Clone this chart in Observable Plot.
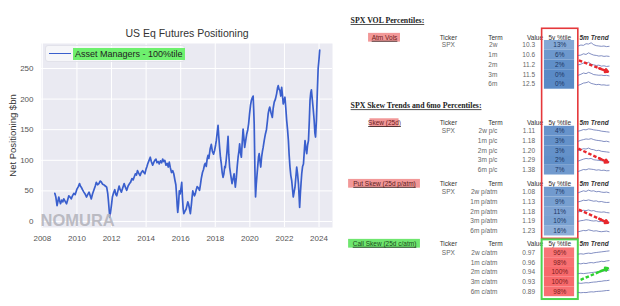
<!DOCTYPE html>
<html>
<head>
<meta charset="utf-8">
<script src="https://cdn.jsdelivr.net/npm/d3@7"></script>
<script src="https://cdn.jsdelivr.net/npm/@observablehq/plot@0.6"></script>
<style>
  html, body { margin: 0; padding: 0; background: #fff; }
  #page { position: relative; width: 620px; height: 306px; overflow: hidden; font-family: "Liberation Sans", Arial, sans-serif; }
  #left { position: absolute; left: 0; top: 0; }
  #right { position: absolute; left: 335px; top: 0; }
  #title { position: absolute; left: 0; width: 374px; top: 27px; line-height: 12px; text-align: center; font-size: 10.5px; color: #333; }
  #legend { position: absolute; left: 45px; top: 45px; width: 140px; height: 17px; background: rgba(255,255,255,0.55); border: 1px solid #e2e2ea; border-radius: 3px; box-sizing: border-box; }
  #legend .swatch { position: absolute; left: 3px; top: 7px; width: 22px; border-top: 1.6px solid #3a5fcd; }
  #legend .name { position: absolute; left: 27px; top: 2px; height: 12px; line-height: 12px; padding: 0 2px; background: #6ef06e; font-size: 9px; color: #222; white-space: nowrap; }
  .sec-title, .sec-label { text-decoration: underline; }
</style>
</head>
<body>
<div id="page">
  <div id="left"></div>
  <div id="title">US Eq Futures Positioning</div>
  <div id="legend"><div class="swatch"></div><div class="name">Asset Managers - 100%tile</div></div>
  <div id="right"></div>
</div>
<script>
// ---- US equity futures net positioning of asset managers ($bn) ----
const weeks = [
  2008.72, 2008.78, 2008.85, 2008.90, 2008.95, 2009.00, 2009.05, 2009.12, 2009.18, 2009.24,
  2009.32, 2009.40, 2009.47, 2009.53, 2009.60, 2009.67, 2009.74, 2009.82, 2009.90, 2010.00,
  2010.08, 2010.15, 2010.20, 2010.25, 2010.32, 2010.40, 2010.47, 2010.55, 2010.62, 2010.70,
  2010.77, 2010.83, 2010.90, 2011.00, 2011.06, 2011.12, 2011.20, 2011.27, 2011.34, 2011.40,
  2011.48, 2011.56, 2011.64, 2011.72, 2011.78, 2011.82, 2011.86, 2011.90, 2011.94, 2011.97,
  2012.01, 2012.05, 2012.12, 2012.19, 2012.25, 2012.30, 2012.37, 2012.44, 2012.50, 2012.57,
  2012.65, 2012.73, 2012.80, 2012.88, 2012.96, 2013.04, 2013.10, 2013.18, 2013.25, 2013.30,
  2013.38, 2013.44, 2013.50, 2013.57, 2013.65, 2013.72, 2013.80, 2013.87, 2013.93, 2014.00,
  2014.05, 2014.09, 2014.16, 2014.24, 2014.30, 2014.38, 2014.45, 2014.50, 2014.57, 2014.63,
  2014.70, 2014.76, 2014.83, 2014.90, 2014.96, 2015.02, 2015.08, 2015.15, 2015.22, 2015.28,
  2015.34, 2015.40, 2015.47, 2015.54, 2015.60, 2015.67, 2015.72, 2015.77, 2015.80, 2015.83,
  2015.88, 2015.92, 2015.97, 2016.02, 2016.06, 2016.10, 2016.14, 2016.18, 2016.25, 2016.31,
  2016.36, 2016.41, 2016.45, 2016.50, 2016.56, 2016.62, 2016.66, 2016.70, 2016.75, 2016.80,
  2016.84, 2016.90, 2016.95, 2017.02, 2017.09, 2017.14, 2017.19, 2017.26, 2017.32, 2017.38,
  2017.42, 2017.48, 2017.53, 2017.58, 2017.63, 2017.70, 2017.77, 2017.83, 2017.90, 2017.96,
  2018.02, 2018.06, 2018.11, 2018.16, 2018.20, 2018.25, 2018.30, 2018.35, 2018.40, 2018.45,
  2018.50, 2018.55, 2018.58, 2018.63, 2018.68, 2018.74, 2018.78, 2018.83, 2018.90, 2018.97,
  2019.03, 2019.09, 2019.13, 2019.16, 2019.22, 2019.27, 2019.32, 2019.37, 2019.41, 2019.46,
  2019.51, 2019.56, 2019.61, 2019.66, 2019.70, 2019.76, 2019.82, 2019.88, 2019.93, 2019.98,
  2020.04, 2020.09, 2020.14, 2020.19, 2020.22, 2020.25, 2020.27, 2020.29, 2020.31, 2020.33,
  2020.37, 2020.42, 2020.47, 2020.50, 2020.54, 2020.58, 2020.63, 2020.68, 2020.73, 2020.77,
  2020.83, 2020.90, 2020.96, 2021.02, 2021.06, 2021.10, 2021.15, 2021.22, 2021.30, 2021.35,
  2021.41, 2021.48, 2021.55, 2021.60, 2021.64, 2021.69, 2021.74, 2021.79, 2021.84, 2021.88,
  2021.93, 2021.98, 2022.03, 2022.08, 2022.13, 2022.18, 2022.23, 2022.27, 2022.32, 2022.37,
  2022.42, 2022.46, 2022.51, 2022.56, 2022.61, 2022.66, 2022.71, 2022.76, 2022.81, 2022.85,
  2022.88, 2022.92, 2022.96, 2023.00, 2023.05, 2023.10, 2023.15, 2023.19, 2023.24, 2023.29,
  2023.34, 2023.39, 2023.44, 2023.48, 2023.52, 2023.56, 2023.61, 2023.66, 2023.72, 2023.76,
  2023.80, 2023.85, 2023.90, 2023.95, 2024.00, 2024.04
];
const netPositioning = [
  46, 40, 26, 33, 40, 34, 29, 35, 32, 37,
  33, 29, 36, 42, 40, 37, 42, 46, 44, 53,
  57, 62, 58, 56, 52, 48, 45, 40, 44, 48,
  42, 37, 45, 53, 58, 64, 60, 62, 66, 65,
  61, 60, 58, 56, 46, 34, 20, 7, 14, 21,
  30, 40, 47, 52, 44, 42, 50, 58, 52, 48,
  55, 62, 56, 51, 58, 62, 64, 70, 68, 72,
  78, 76, 83, 79, 75, 80, 83, 80, 78, 86,
  90, 94, 99, 105, 98, 92, 97, 100, 102, 96,
  98, 94, 99, 96, 102, 98, 100, 92, 95, 89,
  97, 88, 80, 83, 78, 67, 60, 40, 25, 15,
  30, 50, 45, 55, 64, 40, 22, 13, 17, 20,
  26, 32, 29, 22, 13, 28, 40, 50, 45, 42,
  45, 52, 57, 55, 51, 60, 70, 80, 85, 93,
  95, 90, 102, 108, 103, 118, 126, 115, 110, 116,
  125, 132, 145, 157, 140, 121, 105, 94, 80, 72,
  78, 90, 88, 100, 115, 139, 110, 89, 75, 62,
  70, 78, 65, 56, 72, 90, 105, 115, 127, 112,
  105, 130, 151, 135, 121, 132, 143, 150, 160, 175,
  190, 198, 202, 205, 185, 160, 125, 89, 60, 40,
  60, 78, 95, 105, 111, 100, 89, 105, 115, 121,
  132, 143, 150, 165, 176, 182, 187, 178, 170, 185,
  195, 200, 209, 218, 222, 216, 214, 205, 219, 208,
  192, 198, 203, 185, 165, 150, 132, 110, 89, 75,
  67, 55, 40, 48, 56, 72, 89, 78, 62, 40,
  23, 45, 62, 78, 90, 94, 115, 132, 120, 111,
  125, 132, 165, 198, 210, 215, 200, 185, 165, 145,
  138, 165, 210, 250, 265, 280
];
const yearTicks = [2008, 2010, 2012, 2014, 2016, 2018, 2020, 2022, 2024];
const positioningTicks = [0, 50, 100, 150, 200, 250];

// ---- SPX vol / skew percentile table ----
const sectionTitles = ["SPX VOL Percentiles:", "SPX Skew Trends and 6mo Percentiles:"];
const sectionLabels = ["Atm Vols", "Skew (25d)", "Put Skew (25d p/atm)", "Call Skew (25d c/atm)"];
const headers = ["Ticker", "Term", "Value", "5y %tile", "5m Trend"];
const ticker = "SPX";

const volTerms = ["2w", "1m", "2m", "3m", "6m"];
const volValues = [10.3, 10.6, 11.2, 11.5, 12.5];
const volPctile = [13, 6, 2, 0, 0];

const skewTerms = ["2w p/c", "1m p/c", "2m p/c", "3m p/c", "6m p/c"];
const skewValues = [1.11, 1.18, 1.20, 1.29, 1.38];
const skewPctile = [4, 3, 3, 2, 7];

const putTerms = ["2w p/atm", "1m p/atm", "2m p/atm", "3m p/atm", "6m p/atm"];
const putValues = [1.08, 1.13, 1.18, 1.19, 1.23];
const putPctile = [7, 9, 11, 10, 16];

const callTerms = ["2w c/atm", "1m c/atm", "2m c/atm", "3m c/atm", "6m c/atm"];
const callValues = [0.97, 0.96, 0.94, 0.93, 0.89];
const callPctile = [96, 98, 100, 100, 98];

// 5-month trend sparklines (relative level, 0 = low, 1 = high)
const volTrend = [
  [0.40, 0.55, 0.50, 0.75, 0.70, 0.90, 0.60, 0.45, 0.40, 0.35, 0.40, 0.30, 0.35],
  [0.45, 0.50, 0.70, 0.60, 0.85, 0.65, 0.50, 0.45, 0.35, 0.40, 0.30, 0.35, 0.30],
  [0.50, 0.60, 0.80, 0.70, 0.90, 0.60, 0.50, 0.40, 0.45, 0.30, 0.35, 0.25, 0.30],
  [0.40, 0.55, 0.75, 0.65, 0.85, 0.70, 0.50, 0.45, 0.40, 0.42, 0.35, 0.38, 0.30],
  [0.35, 0.50, 0.70, 0.75, 0.90, 0.65, 0.55, 0.45, 0.50, 0.40, 0.42, 0.35, 0.38]
];
const skewTrend = [
  [0.50, 0.60, 0.75, 0.70, 0.85, 0.80, 0.70, 0.65, 0.60, 0.50, 0.45, 0.40, 0.35],
  [0.45, 0.60, 0.70, 0.80, 0.75, 0.85, 0.70, 0.60, 0.55, 0.50, 0.40, 0.45, 0.35],
  [0.50, 0.65, 0.80, 0.75, 0.90, 0.70, 0.65, 0.50, 0.55, 0.40, 0.35, 0.30, 0.25],
  [0.40, 0.55, 0.70, 0.80, 0.75, 0.80, 0.60, 0.55, 0.50, 0.45, 0.40, 0.38, 0.30],
  [0.30, 0.45, 0.60, 0.55, 0.70, 0.65, 0.60, 0.50, 0.55, 0.45, 0.50, 0.40, 0.42]
];
const putTrend = [
  [0.40, 0.55, 0.70, 0.60, 0.80, 0.65, 0.70, 0.55, 0.60, 0.50, 0.45, 0.50, 0.40],
  [0.50, 0.60, 0.75, 0.70, 0.80, 0.70, 0.60, 0.65, 0.50, 0.55, 0.45, 0.40, 0.42],
  [0.45, 0.55, 0.70, 0.65, 0.75, 0.60, 0.65, 0.50, 0.45, 0.40, 0.45, 0.35, 0.30],
  [0.50, 0.60, 0.65, 0.75, 0.70, 0.60, 0.55, 0.60, 0.45, 0.50, 0.40, 0.35, 0.35],
  [0.40, 0.50, 0.60, 0.55, 0.70, 0.60, 0.50, 0.55, 0.45, 0.40, 0.45, 0.50, 0.40]
];
const callTrend = [
  [0.30, 0.35, 0.30, 0.40, 0.45, 0.40, 0.50, 0.55, 0.60, 0.65, 0.70, 0.75, 0.80],
  [0.35, 0.30, 0.40, 0.35, 0.45, 0.50, 0.45, 0.55, 0.60, 0.70, 0.65, 0.75, 0.80],
  [0.30, 0.35, 0.30, 0.35, 0.40, 0.45, 0.50, 0.55, 0.60, 0.65, 0.70, 0.75, 0.85],
  [0.35, 0.30, 0.35, 0.40, 0.38, 0.45, 0.50, 0.52, 0.60, 0.62, 0.70, 0.72, 0.78],
  [0.40, 0.35, 0.40, 0.38, 0.45, 0.50, 0.48, 0.55, 0.58, 0.60, 0.65, 0.70, 0.72]
];

// ---------------- left: line chart ----------------
const series = weeks.map((w, i) => ({year: w, value: netPositioning[i]}));

const left = Plot.plot({
  width: 335,
  height: 250,
  marginLeft: 41,
  marginRight: 3,
  marginTop: 43,
  marginBottom: 23,
  style: {fontFamily: "'Liberation Sans', Arial, sans-serif", fontSize: "8px", background: "transparent", overflow: "visible"},
  x: {domain: [2007.95, 2024.78]},
  y: {domain: [-9.8, 290.8]},
  marks: [
    Plot.frame({fill: "#eaeaf2", stroke: null}),
    Plot.gridX({ticks: yearTicks, stroke: "#fff", strokeOpacity: 1, strokeWidth: 1}),
    Plot.gridY({ticks: positioningTicks, stroke: "#fff", strokeOpacity: 1, strokeWidth: 1}),
    Plot.axisX({ticks: yearTicks, tickSize: 0, tickPadding: 8, label: null, tickFormat: d => String(d), fill: "#555"}),
    Plot.axisY({ticks: positioningTicks, tickSize: 0, tickPadding: 8, label: null, fill: "#555"}),
    Plot.line(series, {x: "year", y: "value", stroke: "#3a5fcd", strokeWidth: 1.7, strokeLinejoin: "round"}),
    Plot.text(["NOMURA"], {frameAnchor: "bottom-left", textAnchor: "start", lineAnchor: "bottom", dx: -1, dy: -2,
      fontSize: 16.5, fontWeight: 600, fill: "#b4b4bc", fillOpacity: 0.9}),
    Plot.text(["Net Positioning $bn"], {frameAnchor: "left", textAnchor: "middle", lineAnchor: "middle",
      rotate: -90, dx: -29, fontSize: 9.5, fill: "#333"})
  ]
});
document.getElementById("left").append(left);

// ---------------- right: percentile table ----------------
// column positions and row positions are in table units (x: 0..100 across, y: one unit per row)
const col = {
  title: 5.3, label: 17.2, ticker: 39.6, termHead: 56.1, term: 56.8, value: 70.0,
  pct: 78.7, cellL: 73.3, cellR: 83.9, boxL: 72.5, boxR: 85.2, trend: 85.6, trendL: 85.2, trendR: 96.0
};
const sectionRows = [
  {title: 2.05, header: 3.82, row0: 4.6, labelHalf: 5.6, fill: "#f29898", ink: "#6b1a1a"},
  {title: 10.8, header: 12.58, row0: 13.4, labelHalf: 5.1, fill: "#f29898", ink: "#6b1a1a"},
  {header: 18.8, row0: 19.65, labelHalf: 12.6, fill: "#f29898", ink: "#5a1a1a"},
  {header: 24.95, row0: 25.88, labelHalf: 12.6, fill: "#6fe66f", ink: "#1d4a1d"}
];
const blocks = [
  {terms: volTerms, values: volValues, pct: volPctile, digits: 1, trend: volTrend},
  {terms: skewTerms, values: skewValues, pct: skewPctile, digits: 2, trend: skewTrend},
  {terms: putTerms, values: putValues, pct: putPctile, digits: 2, trend: putTrend},
  {terms: callTerms, values: callValues, pct: callPctile, digits: 2, trend: callTrend}
];

const titleRows = sectionTitles.map((t, i) => ({text: t, y: sectionRows[i].title}));
const labelRows = sectionLabels.map((t, i) => ({text: t, y: sectionRows[i].header, ...sectionRows[i]}));
const headerRows = sectionRows.flatMap(s => [
  {text: headers[0], x: col.ticker, y: s.header, anchor: "middle"},
  {text: headers[1], x: col.termHead, y: s.header, anchor: "middle"},
  {text: headers[2], x: col.value, y: s.header, anchor: "end"},
  {text: headers[3], x: col.pct, y: s.header, anchor: "middle"}
]);
const trendHeaders = sectionRows.map(s => ({text: headers[4], y: s.header}));
const tickerRows = sectionRows.map(s => ({text: ticker, y: s.row0}));
const cells = blocks.flatMap((b, k) => b.terms.map((term, i) => ({
  term,
  value: b.values[i].toFixed(b.digits),
  pct: b.pct[i],
  y: sectionRows[k].row0 + i
})));
const sparkPoints = blocks.flatMap((b, k) => b.trend.flatMap((vals, i) =>
  vals.map((v, j) => ({
    id: `${k}-${i}`,
    x: col.trendL + (j / (vals.length - 1)) * (col.trendR - col.trendL),
    y: sectionRows[k].row0 + i + 0.33 - v * 0.66
  }))
));

// highlight frames around the percentile columns
const frames = [
  {y1: 2.9, y2: 24.45, stroke: "#e5383b", width: 1.6},
  {y1: 24.55, y2: 30.67, stroke: "#4fd44f", width: 2}
];
// trend arrows drawn across the 5m trend column
const trendArrows = [
  {x1: 85.4, y1: 6.15, x2: 95.6, y2: 7.3, color: "#e8282d"},
  {x1: 85.2, y1: 15.2, x2: 95.6, y2: 16.6, color: "#e8282d"},
  {x1: 85.4, y1: 21.45, x2: 95.6, y2: 22.8, color: "#e8282d"},
  {x1: 86.0, y1: 28.65, x2: 95.6, y2: 27.45, color: "#2fd12f"}
];
const arrowShafts = trendArrows.map(a => ({...a, x2: a.x1 + 0.78 * (a.x2 - a.x1), y2: a.y1 + 0.78 * (a.y2 - a.y1)}));
const arrowHeads = trendArrows.map(a => ({...a, x1: a.x1 + 0.7 * (a.x2 - a.x1), y1: a.y1 + 0.7 * (a.y2 - a.y1)}));

const sans = "'Liberation Sans', Arial, sans-serif";
const serif = "'Liberation Serif', 'Times New Roman', serif";

const right = Plot.plot({
  width: 285,
  height: 306,
  margin: 0,
  style: {fontFamily: sans, fontSize: "6.5px", background: "transparent"},
  x: {domain: [0, 100], axis: null},
  y: {domain: [0, 31.385], reverse: true, axis: null},
  color: {type: "linear", domain: [0, 50, 100], range: ["#5a8ac6", "#fcfcff", "#f8696b"], interpolate: "rgb"},
  marks: [
    // section titles
    Plot.text(titleRows, {x: col.title, y: "y", text: "text", textAnchor: "start", fontFamily: serif,
      fontWeight: "bold", fontSize: 7.8, fill: "#222", className: "sec-title"}),
    // section label badges
    Plot.rect(labelRows, {x1: d => col.label - d.labelHalf, x2: d => col.label + d.labelHalf,
      y1: d => d.y - 0.45, y2: d => d.y + 0.45, fill: "fill"}),
    Plot.text(labelRows, {x: col.label, y: "y", text: "text", fill: "ink", className: "sec-label"}),
    // column headers
    Plot.text(headerRows, {x: "x", y: "y", text: "text", textAnchor: "anchor", fill: "#333"}),
    Plot.text(trendHeaders, {x: col.trend, y: "y", text: "text", textAnchor: "start", fill: "#333",
      fontStyle: "italic", fontWeight: "bold"}),
    // ticker, terms and values
    Plot.text(tickerRows, {x: col.ticker, y: "y", text: "text", fill: "#666"}),
    Plot.text(cells, {x: col.term, y: "y", text: "term", textAnchor: "end", fill: "#666"}),
    Plot.text(cells, {x: col.value, y: "y", text: "value", textAnchor: "end", fill: "#666"}),
    // percentile heat cells
    Plot.rect(cells, {x1: col.cellL, x2: col.cellR, y1: d => d.y - 0.5, y2: d => d.y + 0.5, fill: "pct"}),
    Plot.text(cells, {x: col.pct, y: "y", text: d => `${d.pct}%`,
      fill: d => d.pct >= 50 ? "#7b1c1c" : "#1f3864"}),
    // frames around the percentile column
    Plot.rect(frames, {x1: col.boxL, x2: col.boxR, y1: "y1", y2: "y2", fill: "none",
      stroke: "stroke", strokeWidth: "width"}),
    // 5m trend sparklines
    Plot.line(sparkPoints, {x: "x", y: "y", z: "id", stroke: "#5a6aae", strokeWidth: 0.75}),
    // trend arrows
    Plot.link(arrowShafts, {x1: "x1", y1: "y1", x2: "x2", y2: "y2", stroke: "color",
      strokeWidth: 2.4, strokeDasharray: "3.5,2"}),
    Plot.arrow(arrowHeads, {x1: "x1", y1: "y1", x2: "x2", y2: "y2", stroke: "color",
      strokeWidth: 2.4, headLength: 7})
  ]
});
document.getElementById("right").append(right);
</script>
</body>
</html>
